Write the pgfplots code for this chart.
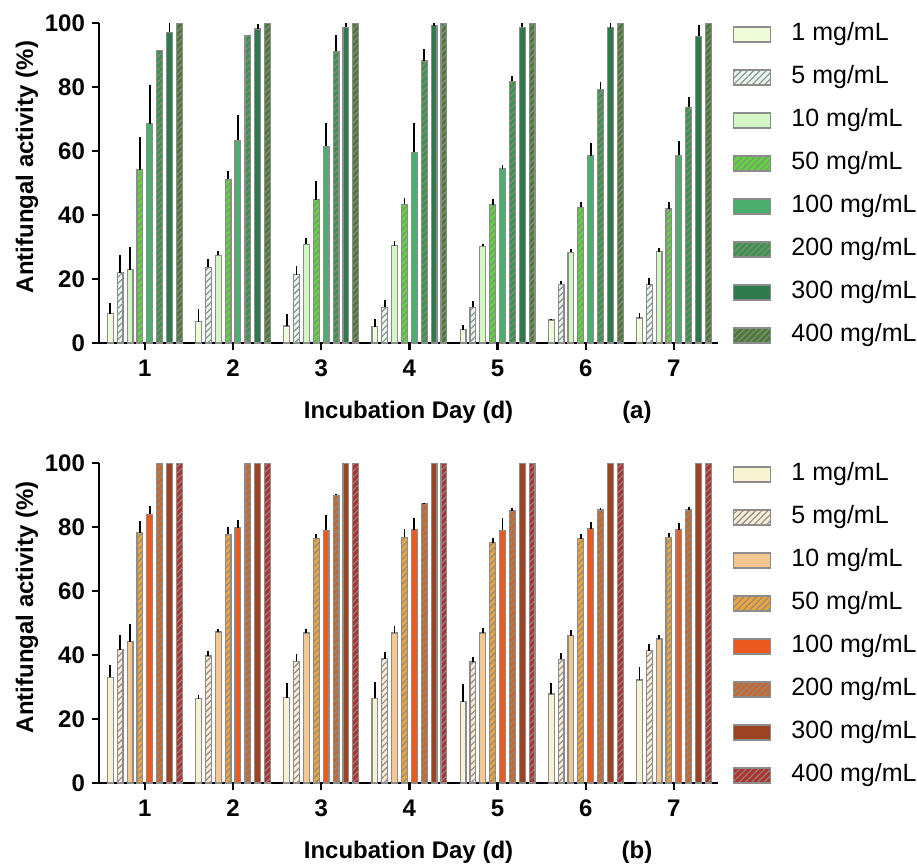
\documentclass[border=0pt]{standalone}
\usepackage{fontspec}
\setmainfont{Liberation Sans}
\usepackage{pgfplots}
\pgfplotsset{compat=1.18}
\usepackage{pgfplotstable}
\usetikzlibrary{patterns.meta}

\definecolor{bgray}{HTML}{8C8C8C}
\definecolor{hgray}{HTML}{8A8A8A}
% panel (a) greens
\definecolor{ga1}{HTML}{EFFCDA}
\definecolor{ga2}{HTML}{E6F8EE}
\definecolor{ga3}{HTML}{D4F5C4}
\definecolor{ga4}{HTML}{5CD63A}
\definecolor{ga5}{HTML}{4DAF6F}
\definecolor{ga6}{HTML}{3C9448}
\definecolor{ga7}{HTML}{2F7A4C}
\definecolor{ga8}{HTML}{4B7C34}
% panel (b) oranges
\definecolor{ob1}{HTML}{F7F3D3}
\definecolor{ob2}{HTML}{FCEBD5}
\definecolor{ob3}{HTML}{F3C78F}
\definecolor{ob4}{HTML}{EFA439}
\definecolor{ob5}{HTML}{EC5A1F}
\definecolor{ob6}{HTML}{C9682C}
\definecolor{ob7}{HTML}{9E4322}
\definecolor{ob8}{HTML}{B3312B}

\pgfplotstableread{
day v1 e1 v2 e2 v3 e3 v4 e4 v5 e5 v6 e6 v7 e7 v8 e8
1 9.1 3.3 22.0 5.5 22.9 7.2 54.2 10.3 68.5 12.1 91.3 0 97.1 3.5 100 0
2 6.7 4.0 23.6 2.7 27.4 1.4 51.1 2.5 63.3 8.1 96.2 0 98.1 1.7 100 0
3 5.3 3.7 21.3 2.7 30.8 2.0 44.8 5.7 61.5 7.2 91.2 4.9 98.7 1.5 100 0
4 5.1 2.4 11.2 2.2 30.4 1.6 43.4 2.0 59.6 9.2 88.1 3.7 99.1 1.0 100 0
5 4.1 1.6 11.2 1.9 30.2 0.7 43.2 1.8 54.5 1.0 81.8 1.5 98.7 1.2 100 0
6 7.2 0.3 18.4 1.0 28.4 1.0 42.4 1.8 58.5 4.1 79.3 2.4 98.5 1.4 100 0
7 7.8 1.6 18.2 2.1 28.5 1.3 41.9 2.2 58.6 4.5 73.7 3.3 95.9 3.6 100 0
}\dataA

\pgfplotstableread{
day v1 e1 v2 e2 v3 e3 v4 e4 v5 e5 v6 e6 v7 e7 v8 e8
1 33.0 4.0 41.7 4.4 44.1 5.7 78.2 3.7 84.0 2.5 100 0 100 0 100 0
2 26.3 1.2 39.7 1.6 47.2 0.8 77.7 2.2 79.8 2.5 100 0 100 0 100 0
3 26.6 4.6 38.0 2.2 46.9 1.1 76.5 1.3 79.0 4.7 89.9 0.5 100 0 100 0
4 26.5 5.1 38.8 2.1 46.9 2.1 76.8 2.5 79.1 3.7 87.3 0.3 100 0 100 0
5 25.4 5.6 37.8 1.7 46.9 1.5 75.1 1.6 79.0 3.8 85.1 0.7 100 0 100 0
6 27.8 3.6 38.6 2.0 46.0 1.7 76.3 1.5 79.5 2.0 85.3 0.5 100 0 100 0
7 32.2 4.1 41.4 1.9 45.0 1.1 76.8 1.3 79.1 2.3 85.3 1.1 100 0 100 0
}\dataB

\pgfplotsset{
  bar/.style={fill=#1, draw=bgray, line width=0.6pt},
  hatch/.style={postaction={pattern={Lines[angle=45,distance=2.2pt,line width=0.55pt]}, pattern color=hgray}},
  myaxis/.style={
    scale only axis, width=309.5pt, height=160pt,
    xmin=0.48, xmax=7.5, ymin=0, ymax=100,
    axis lines=left, axis line style={-, line width=1.2pt, black},
    xtick={1,...,7}, ytick={0,20,...,100},
    tick align=outside, major tick length=3.5pt,
    tick style={line width=1.2pt, black},
    ticklabel style={font=\fontsize{12}{14}\selectfont\bfseries},
    xticklabel style={yshift=-1.5pt},
    /pgf/number format/assume math mode=true,
    label style={font=\fontsize{12}{14}\selectfont\bfseries},
    xlabel={Incubation Day (d)},
    ylabel={Antifungal activity (\%)},
    xlabel style={at={(axis description cs:0.5,-0.215)}, anchor=center},
    ylabel style={at={(axis description cs:-0.1163,0.55)}, anchor=center},
    ybar, bar width=0.066,
    error bars/y dir=plus, error bars/y explicit, error bars/error mark=none,
    error bars/error bar style={line width=0.9pt, black},
    legend cell align=left,
    legend style={draw=none, fill=none, at={(1.024,1.003)}, anchor=north west,
      inner sep=0pt, row sep=9.5pt, column sep=10pt,
      nodes={inner sep=0pt, text height=9pt, text depth=3pt, font=\fontsize{12.5}{15}\selectfont}},
    legend image code/.code={\draw[##1] (0pt,-3.75pt) rectangle (18.5pt,3.75pt);},
  }
}

\begin{document}
\begin{tikzpicture}
\begin{axis}[myaxis, name=a, at={(0,0)}, anchor=south west,
  extra description/.code={\node[font=\fontsize{12}{14}\selectfont\bfseries] at (0.869,-0.215) {(a)};}]
\addplot[bar=ga1, bar shift=-0.391] table[x=day,y=v1,y error=e1] {\dataA};
\addplot[bar=ga2, hatch, bar shift=-0.280] table[x=day,y=v2,y error=e2] {\dataA};
\addplot[bar=ga3, bar shift=-0.168] table[x=day,y=v3,y error=e3] {\dataA};
\addplot[bar=ga4, hatch, bar shift=-0.056] table[x=day,y=v4,y error=e4] {\dataA};
\addplot[bar=ga5, bar shift=0.056] table[x=day,y=v5,y error=e5] {\dataA};
\addplot[bar=ga6, hatch, bar shift=0.168] table[x=day,y=v6,y error=e6] {\dataA};
\addplot[bar=ga7, bar shift=0.280] table[x=day,y=v7,y error=e7] {\dataA};
\addplot[bar=ga8, hatch, bar shift=0.391] table[x=day,y=v8,y error=e8] {\dataA};
\legend{1 mg/mL, 5 mg/mL, 10 mg/mL, 50 mg/mL, 100 mg/mL, 200 mg/mL, 300 mg/mL, 400 mg/mL}
\end{axis}
\begin{axis}[myaxis, name=b, at={(0,-220pt)}, anchor=south west,
  extra description/.code={\node[font=\fontsize{12}{14}\selectfont\bfseries] at (0.869,-0.215) {(b)};}]
\addplot[bar=ob1, bar shift=-0.391] table[x=day,y=v1,y error=e1] {\dataB};
\addplot[bar=ob2, hatch, bar shift=-0.280] table[x=day,y=v2,y error=e2] {\dataB};
\addplot[bar=ob3, bar shift=-0.168] table[x=day,y=v3,y error=e3] {\dataB};
\addplot[bar=ob4, hatch, bar shift=-0.056] table[x=day,y=v4,y error=e4] {\dataB};
\addplot[bar=ob5, bar shift=0.056] table[x=day,y=v5,y error=e5] {\dataB};
\addplot[bar=ob6, hatch, bar shift=0.168] table[x=day,y=v6,y error=e6] {\dataB};
\addplot[bar=ob7, bar shift=0.280] table[x=day,y=v7,y error=e7] {\dataB};
\addplot[bar=ob8, hatch, bar shift=0.391] table[x=day,y=v8,y error=e8] {\dataB};
\legend{1 mg/mL, 5 mg/mL, 10 mg/mL, 50 mg/mL, 100 mg/mL, 200 mg/mL, 300 mg/mL, 400 mg/mL}
\end{axis}
\pgfresetboundingbox
\path (-49.5pt,-262.5pt) rectangle (409pt,171.5pt);
\end{tikzpicture}
\end{document}
